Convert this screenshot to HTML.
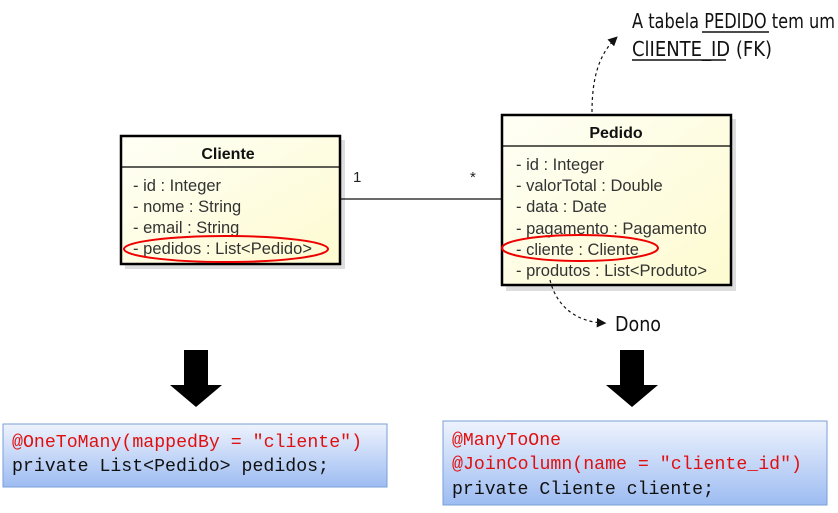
<!DOCTYPE html>
<html><head><meta charset="utf-8"><style>
body{margin:0;background:#fff;width:838px;height:508px;overflow:hidden}
svg text{font-family:"Liberation Sans",sans-serif}
.attr{font-size:16.5px;fill:#333}
.mono{font-family:"Liberation Mono",monospace!important;font-size:18px}
.hand{font-family:"DejaVu Sans Condensed","DejaVu Sans",sans-serif!important;font-size:20px;fill:#111}
</style></head><body>
<svg width="838" height="508" viewBox="0 0 838 508" xmlns="http://www.w3.org/2000/svg">
<defs>
<linearGradient id="y" x1="0" y1="0" x2="1" y2="1"><stop offset="0" stop-color="#fffff6"/><stop offset="1" stop-color="#fdfbd0"/></linearGradient>
<linearGradient id="b" x1="0" y1="0" x2="0" y2="1"><stop offset="0" stop-color="#eef3fd"/><stop offset="1" stop-color="#9dbcf2"/></linearGradient>
<marker id="ah" markerWidth="8" markerHeight="8" refX="6" refY="4" orient="auto"><path d="M0,0 L8,4 L0,8 Z" fill="#111"/></marker>
</defs>
<text x="353" y="182" font-size="15" fill="#222">1</text>
<text x="470" y="182" font-size="15" fill="#222">*</text>
<rect x="125" y="140" width="220" height="129" fill="#ddd"/>
<line x1="340" y1="199" x2="501" y2="199" stroke="#111" stroke-width="1.2"/>
<rect x="121" y="136" width="219" height="128" fill="url(#y)" stroke="#000" stroke-width="2.5"/>
<line x1="121" y1="167" x2="340" y2="167" stroke="#000" stroke-width="1.2"/>
<text x="228" y="159" font-size="16" font-weight="bold" text-anchor="middle" fill="#111">Cliente</text>
<text class="attr" x="133" y="191">- id : Integer</text>
<text class="attr" x="133" y="212">- nome : String</text>
<text class="attr" x="133" y="233">- email : String</text>
<text class="attr" x="133" y="254" textLength="179">- pedidos : List&lt;Pedido&gt;</text>
<ellipse cx="226" cy="249" rx="102" ry="13" fill="none" stroke="#e00" stroke-width="2"/>
<rect x="506" y="119" width="230" height="172" fill="#ddd"/>
<rect x="502" y="115" width="229" height="170" fill="url(#y)" stroke="#000" stroke-width="2.5"/>
<line x1="502" y1="146" x2="731" y2="146" stroke="#000" stroke-width="1.2"/>
<text x="616" y="138" font-size="16" font-weight="bold" text-anchor="middle" fill="#111">Pedido</text>
<text class="attr" x="516" y="170">- id : Integer</text>
<text class="attr" x="516" y="191">- valorTotal : Double</text>
<text class="attr" x="516" y="212">- data : Date</text>
<text class="attr" x="516" y="234">- pagamento : Pagamento</text>
<text class="attr" x="516" y="255">- cliente : Cliente</text>
<text class="attr" x="516" y="276" textLength="191">- produtos : List&lt;Produto&gt;</text>
<ellipse cx="580" cy="248" rx="78" ry="13" fill="none" stroke="#e00" stroke-width="2"/>
<path d="M592,112 C592,80 598,55 616,38" fill="none" stroke="#111" stroke-dasharray="3,3" stroke-width="1.2" marker-end="url(#ah)"/>
<path d="M550,280 C556,305 575,322 604,323" fill="none" stroke="#111" stroke-dasharray="3,3" stroke-width="1.2" marker-end="url(#ah)"/>
<text class="hand" x="632" y="28" textLength="203" lengthAdjust="spacingAndGlyphs">A tabela PEDIDO tem um</text>
<line x1="702" y1="32" x2="769" y2="32" stroke="#111" stroke-width="1.5"/>
<text class="hand" x="632" y="56" textLength="140" lengthAdjust="spacingAndGlyphs">ClIENTE_ID (FK)</text>
<line x1="632" y1="60" x2="726" y2="60" stroke="#111" stroke-width="1.5"/>
<text class="hand" x="615" y="331" textLength="46" lengthAdjust="spacingAndGlyphs">Dono</text>
<path d="M184,350 H208 V385 H222 L196,407 L170,385 H184 Z" fill="#000"/>
<path d="M620,350 H644 V385 H658 L632,407 L606,385 H620 Z" fill="#000"/>
<rect x="3" y="424" width="384" height="63" fill="url(#b)" stroke="#7a9fd6" stroke-width="1"/>
<text class="mono" x="12" y="447" fill="#e01010" textLength="350" lengthAdjust="spacingAndGlyphs">@OneToMany(mappedBy = "cliente")</text>
<text class="mono" x="12" y="471" fill="#111" textLength="317" lengthAdjust="spacingAndGlyphs">private List&lt;Pedido&gt; pedidos;</text>
<rect x="443" y="421" width="384" height="84" fill="url(#b)" stroke="#7a9fd6" stroke-width="1"/>
<text class="mono" x="452" y="445" fill="#e01010" textLength="109" lengthAdjust="spacingAndGlyphs">@ManyToOne</text>
<text class="mono" x="452" y="469" fill="#e01010" textLength="350" lengthAdjust="spacingAndGlyphs">@JoinColumn(name = "cliente_id")</text>
<text class="mono" x="452" y="494" fill="#111" textLength="262" lengthAdjust="spacingAndGlyphs">private Cliente cliente;</text>
</svg>
</body></html>
